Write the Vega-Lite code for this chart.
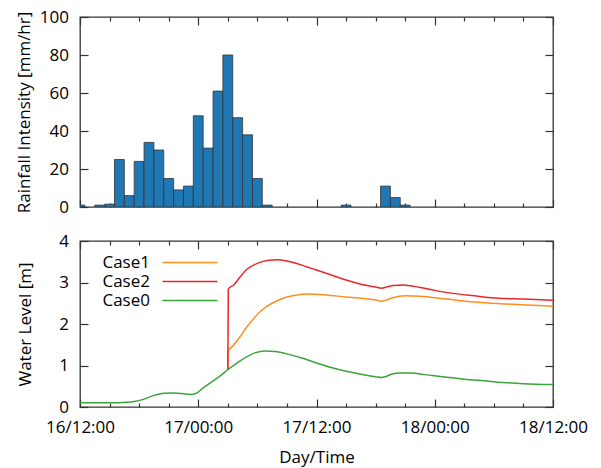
{
  "$schema": "https://vega.github.io/schema/vega-lite/v6.json",
  "background": "white",
  "padding": {"top": 7, "left": 14, "right": 5, "bottom": 5},
  "spacing": 15,
  "resolve": {"legend": {"color": "independent"}},
  "config": {
    "view": {"stroke": "#333", "strokeWidth": 1.3},
    "axis": {"domain": false, "grid": false, "tickColor": "#333", "tickWidth": 1.2, "labelFont": "Open Sans", "labelFontSize": 17, "labelColor": "#000", "titleFont": "Open Sans", "titleFontSize": 17, "titleFontWeight": "normal", "titleColor": "#000", "labelFlush": false, "labelOverlap": false, "minExtent": 0}
  },
  "datasets": {
    "rain": [
      {"start": "2020-01-16T11:30", "end": "2020-01-16T12:30", "rain": 1},
      {"start": "2020-01-16T13:30", "end": "2020-01-16T14:30", "rain": 1},
      {"start": "2020-01-16T14:30", "end": "2020-01-16T15:30", "rain": 1.5},
      {"start": "2020-01-16T15:30", "end": "2020-01-16T16:30", "rain": 25},
      {"start": "2020-01-16T16:30", "end": "2020-01-16T17:30", "rain": 6},
      {"start": "2020-01-16T17:30", "end": "2020-01-16T18:30", "rain": 24},
      {"start": "2020-01-16T18:30", "end": "2020-01-16T19:30", "rain": 34},
      {"start": "2020-01-16T19:30", "end": "2020-01-16T20:30", "rain": 30},
      {"start": "2020-01-16T20:30", "end": "2020-01-16T21:30", "rain": 15},
      {"start": "2020-01-16T21:30", "end": "2020-01-16T22:30", "rain": 9},
      {"start": "2020-01-16T22:30", "end": "2020-01-16T23:30", "rain": 11},
      {"start": "2020-01-16T23:30", "end": "2020-01-17T00:30", "rain": 48},
      {"start": "2020-01-17T00:30", "end": "2020-01-17T01:30", "rain": 31},
      {"start": "2020-01-17T01:30", "end": "2020-01-17T02:30", "rain": 61},
      {"start": "2020-01-17T02:30", "end": "2020-01-17T03:30", "rain": 80},
      {"start": "2020-01-17T03:30", "end": "2020-01-17T04:30", "rain": 47},
      {"start": "2020-01-17T04:30", "end": "2020-01-17T05:30", "rain": 38},
      {"start": "2020-01-17T05:30", "end": "2020-01-17T06:30", "rain": 15},
      {"start": "2020-01-17T06:30", "end": "2020-01-17T07:30", "rain": 1},
      {"start": "2020-01-17T14:30", "end": "2020-01-17T15:30", "rain": 1},
      {"start": "2020-01-17T18:30", "end": "2020-01-17T19:30", "rain": 11},
      {"start": "2020-01-17T19:30", "end": "2020-01-17T20:30", "rain": 5},
      {"start": "2020-01-17T20:30", "end": "2020-01-17T21:30", "rain": 1}
    ],
    "level": [
      {"t": "2020-01-17T03:00", "series": "Case1", "level": 0.90},
      {"t": "2020-01-17T03:03", "series": "Case1", "level": 1.35},
      {"t": "2020-01-17T03:30", "series": "Case1", "level": 1.47},
      {"t": "2020-01-17T04:12", "series": "Case1", "level": 1.68},
      {"t": "2020-01-17T05:00", "series": "Case1", "level": 1.95},
      {"t": "2020-01-17T05:36", "series": "Case1", "level": 2.12},
      {"t": "2020-01-17T06:18", "series": "Case1", "level": 2.30},
      {"t": "2020-01-17T07:00", "series": "Case1", "level": 2.43},
      {"t": "2020-01-17T08:00", "series": "Case1", "level": 2.56},
      {"t": "2020-01-17T09:00", "series": "Case1", "level": 2.65},
      {"t": "2020-01-17T10:00", "series": "Case1", "level": 2.70},
      {"t": "2020-01-17T11:00", "series": "Case1", "level": 2.72},
      {"t": "2020-01-17T13:00", "series": "Case1", "level": 2.70},
      {"t": "2020-01-17T15:00", "series": "Case1", "level": 2.65},
      {"t": "2020-01-17T17:00", "series": "Case1", "level": 2.61},
      {"t": "2020-01-17T18:00", "series": "Case1", "level": 2.58},
      {"t": "2020-01-17T18:36", "series": "Case1", "level": 2.55},
      {"t": "2020-01-17T19:06", "series": "Case1", "level": 2.58},
      {"t": "2020-01-17T19:48", "series": "Case1", "level": 2.64},
      {"t": "2020-01-17T21:00", "series": "Case1", "level": 2.68},
      {"t": "2020-01-17T22:30", "series": "Case1", "level": 2.67},
      {"t": "2020-01-18T01:12", "series": "Case1", "level": 2.60},
      {"t": "2020-01-18T04:00", "series": "Case1", "level": 2.53},
      {"t": "2020-01-18T06:36", "series": "Case1", "level": 2.49},
      {"t": "2020-01-18T09:18", "series": "Case1", "level": 2.46},
      {"t": "2020-01-18T12:00", "series": "Case1", "level": 2.43},
      {"t": "2020-01-17T03:00", "series": "Case2", "level": 0.90},
      {"t": "2020-01-17T03:03", "series": "Case2", "level": 2.84},
      {"t": "2020-01-17T03:36", "series": "Case2", "level": 2.94},
      {"t": "2020-01-17T04:18", "series": "Case2", "level": 3.15},
      {"t": "2020-01-17T05:00", "series": "Case2", "level": 3.33},
      {"t": "2020-01-17T06:00", "series": "Case2", "level": 3.46},
      {"t": "2020-01-17T07:00", "series": "Case2", "level": 3.53},
      {"t": "2020-01-17T08:00", "series": "Case2", "level": 3.55},
      {"t": "2020-01-17T09:00", "series": "Case2", "level": 3.52},
      {"t": "2020-01-17T10:00", "series": "Case2", "level": 3.46},
      {"t": "2020-01-17T11:00", "series": "Case2", "level": 3.38},
      {"t": "2020-01-17T12:00", "series": "Case2", "level": 3.30},
      {"t": "2020-01-17T13:30", "series": "Case2", "level": 3.18},
      {"t": "2020-01-17T15:00", "series": "Case2", "level": 3.06},
      {"t": "2020-01-17T16:30", "series": "Case2", "level": 2.96},
      {"t": "2020-01-17T18:00", "series": "Case2", "level": 2.89},
      {"t": "2020-01-17T18:36", "series": "Case2", "level": 2.86},
      {"t": "2020-01-17T19:06", "series": "Case2", "level": 2.89},
      {"t": "2020-01-17T19:48", "series": "Case2", "level": 2.93},
      {"t": "2020-01-17T20:48", "series": "Case2", "level": 2.94},
      {"t": "2020-01-17T22:30", "series": "Case2", "level": 2.88},
      {"t": "2020-01-18T00:00", "series": "Case2", "level": 2.81},
      {"t": "2020-01-18T01:30", "series": "Case2", "level": 2.75},
      {"t": "2020-01-18T04:00", "series": "Case2", "level": 2.68},
      {"t": "2020-01-18T06:30", "series": "Case2", "level": 2.62},
      {"t": "2020-01-18T09:00", "series": "Case2", "level": 2.60},
      {"t": "2020-01-18T12:00", "series": "Case2", "level": 2.57},
      {"t": "2020-01-16T12:00", "series": "Case0", "level": 0.10},
      {"t": "2020-01-16T15:00", "series": "Case0", "level": 0.10},
      {"t": "2020-01-16T16:30", "series": "Case0", "level": 0.11},
      {"t": "2020-01-16T17:30", "series": "Case0", "level": 0.13},
      {"t": "2020-01-16T18:30", "series": "Case0", "level": 0.19},
      {"t": "2020-01-16T19:30", "series": "Case0", "level": 0.28},
      {"t": "2020-01-16T20:30", "series": "Case0", "level": 0.33},
      {"t": "2020-01-16T21:30", "series": "Case0", "level": 0.34},
      {"t": "2020-01-16T22:30", "series": "Case0", "level": 0.32},
      {"t": "2020-01-16T23:12", "series": "Case0", "level": 0.30},
      {"t": "2020-01-16T23:48", "series": "Case0", "level": 0.33},
      {"t": "2020-01-17T00:30", "series": "Case0", "level": 0.46},
      {"t": "2020-01-17T01:30", "series": "Case0", "level": 0.63},
      {"t": "2020-01-17T02:18", "series": "Case0", "level": 0.76},
      {"t": "2020-01-17T03:00", "series": "Case0", "level": 0.90},
      {"t": "2020-01-17T04:00", "series": "Case0", "level": 1.07},
      {"t": "2020-01-17T05:00", "series": "Case0", "level": 1.22},
      {"t": "2020-01-17T05:48", "series": "Case0", "level": 1.31},
      {"t": "2020-01-17T06:48", "series": "Case0", "level": 1.35},
      {"t": "2020-01-17T07:48", "series": "Case0", "level": 1.34},
      {"t": "2020-01-17T09:00", "series": "Case0", "level": 1.28},
      {"t": "2020-01-17T10:30", "series": "Case0", "level": 1.18},
      {"t": "2020-01-17T12:00", "series": "Case0", "level": 1.06},
      {"t": "2020-01-17T13:30", "series": "Case0", "level": 0.95},
      {"t": "2020-01-17T15:00", "series": "Case0", "level": 0.86},
      {"t": "2020-01-17T16:30", "series": "Case0", "level": 0.79},
      {"t": "2020-01-17T18:00", "series": "Case0", "level": 0.73},
      {"t": "2020-01-17T18:36", "series": "Case0", "level": 0.71},
      {"t": "2020-01-17T19:00", "series": "Case0", "level": 0.73},
      {"t": "2020-01-17T19:36", "series": "Case0", "level": 0.79},
      {"t": "2020-01-17T20:30", "series": "Case0", "level": 0.82},
      {"t": "2020-01-17T21:30", "series": "Case0", "level": 0.82},
      {"t": "2020-01-17T23:00", "series": "Case0", "level": 0.78},
      {"t": "2020-01-18T01:00", "series": "Case0", "level": 0.72},
      {"t": "2020-01-18T03:00", "series": "Case0", "level": 0.67},
      {"t": "2020-01-18T05:00", "series": "Case0", "level": 0.63},
      {"t": "2020-01-18T07:00", "series": "Case0", "level": 0.59},
      {"t": "2020-01-18T09:00", "series": "Case0", "level": 0.56},
      {"t": "2020-01-18T12:00", "series": "Case0", "level": 0.54}
    ]
  },
  "vconcat": [
    {
      "width": 473,
      "height": 190,
      "data": {"name": "rain"},
      "resolve": {"axis": {"x": "independent", "y": "independent"}},
      "layer": [
        {
          "mark": {"type": "bar", "fill": "#1f77b4", "stroke": "#333", "strokeWidth": 0.8, "clip": true},
          "encoding": {
            "x": {"field": "start", "type": "temporal", "scale": {"domain": [{"year": 2020, "month": 1, "date": 16, "hours": 12}, {"year": 2020, "month": 1, "date": 18, "hours": 12}], "nice": false},
                  "axis": {"orient": "bottom", "title": null, "labels": false, "tickSize": -8, "values": [{"year": 2020, "month": 1, "date": 16, "hours": 12}, {"year": 2020, "month": 1, "date": 17, "hours": 0}, {"year": 2020, "month": 1, "date": 17, "hours": 12}, {"year": 2020, "month": 1, "date": 18, "hours": 0}, {"year": 2020, "month": 1, "date": 18, "hours": 12}]}},
            "x2": {"field": "end"},
            "y": {"field": "rain", "type": "quantitative", "scale": {"domain": [0, 100], "nice": false},
                  "axis": {"orient": "left", "title": "Rainfall Intensity [mm/hr]", "values": [0, 20, 40, 60, 80, 100], "tickSize": -8, "labelPadding": 19.5, "titlePadding": 6}},
            "y2": {"datum": 0}
          }
        },
        {
          "mark": {"type": "point", "opacity": 0},
          "encoding": {
            "x": {"field": "start", "type": "temporal",
                  "axis": {"orient": "top", "title": null, "labels": false, "tickSize": -8, "values": [{"year": 2020, "month": 1, "date": 16, "hours": 12}, {"year": 2020, "month": 1, "date": 17, "hours": 0}, {"year": 2020, "month": 1, "date": 17, "hours": 12}, {"year": 2020, "month": 1, "date": 18, "hours": 0}, {"year": 2020, "month": 1, "date": 18, "hours": 12}]}},
            "y": {"field": "rain", "type": "quantitative",
                  "axis": {"orient": "right", "title": null, "labels": false, "values": [0, 20, 40, 60, 80, 100], "tickSize": -8}}
          }
        },
        {
          "mark": {"type": "point", "opacity": 0},
          "encoding": {
            "x": {"field": "start", "type": "temporal",
                  "axis": {"orient": "bottom", "title": null, "labels": false, "tickSize": -4, "values": [{"year": 2020, "month": 1, "date": 16, "hours": 15}, {"year": 2020, "month": 1, "date": 16, "hours": 18}, {"year": 2020, "month": 1, "date": 16, "hours": 21}, {"year": 2020, "month": 1, "date": 17, "hours": 3}, {"year": 2020, "month": 1, "date": 17, "hours": 6}, {"year": 2020, "month": 1, "date": 17, "hours": 9}, {"year": 2020, "month": 1, "date": 17, "hours": 15}, {"year": 2020, "month": 1, "date": 17, "hours": 18}, {"year": 2020, "month": 1, "date": 17, "hours": 21}, {"year": 2020, "month": 1, "date": 18, "hours": 3}, {"year": 2020, "month": 1, "date": 18, "hours": 6}, {"year": 2020, "month": 1, "date": 18, "hours": 9}]}},
            "y": {"field": "rain", "type": "quantitative", "axis": null}
          }
        },
        {
          "mark": {"type": "point", "opacity": 0},
          "encoding": {
            "x": {"field": "start", "type": "temporal",
                  "axis": {"orient": "top", "title": null, "labels": false, "tickSize": -4, "values": [{"year": 2020, "month": 1, "date": 16, "hours": 15}, {"year": 2020, "month": 1, "date": 16, "hours": 18}, {"year": 2020, "month": 1, "date": 16, "hours": 21}, {"year": 2020, "month": 1, "date": 17, "hours": 3}, {"year": 2020, "month": 1, "date": 17, "hours": 6}, {"year": 2020, "month": 1, "date": 17, "hours": 9}, {"year": 2020, "month": 1, "date": 17, "hours": 15}, {"year": 2020, "month": 1, "date": 17, "hours": 18}, {"year": 2020, "month": 1, "date": 17, "hours": 21}, {"year": 2020, "month": 1, "date": 18, "hours": 3}, {"year": 2020, "month": 1, "date": 18, "hours": 6}, {"year": 2020, "month": 1, "date": 18, "hours": 9}]}},
            "y": {"field": "rain", "type": "quantitative", "axis": null}
          }
        }
      ]
    },
    {
      "width": 473,
      "height": 166,
      "data": {"name": "level"},
      "resolve": {"axis": {"x": "independent", "y": "independent"}},
      "layer": [
        {
          "mark": {"type": "line", "strokeWidth": 1.5, "interpolate": "monotone", "clip": true},
          "encoding": {
            "x": {"field": "t", "type": "temporal", "scale": {"domain": [{"year": 2020, "month": 1, "date": 16, "hours": 12}, {"year": 2020, "month": 1, "date": 18, "hours": 12}], "nice": false},
                  "axis": {"orient": "bottom", "title": "Day/Time", "format": "%d/%H:%M", "tickSize": -8, "labelPadding": 20, "titlePadding": 14, "values": [{"year": 2020, "month": 1, "date": 16, "hours": 12}, {"year": 2020, "month": 1, "date": 17, "hours": 0}, {"year": 2020, "month": 1, "date": 17, "hours": 12}, {"year": 2020, "month": 1, "date": 18, "hours": 0}, {"year": 2020, "month": 1, "date": 18, "hours": 12}]}},
            "y": {"field": "level", "type": "quantitative", "scale": {"domain": [0, 4], "nice": false},
                  "axis": {"orient": "left", "title": "Water Level [m]", "values": [0, 1, 2, 3, 4], "tickSize": -8, "labelPadding": 19.5, "titlePadding": 24}},
            "color": {"field": "series", "type": "nominal",
                      "scale": {"domain": ["Case1", "Case2", "Case0"], "range": ["#ff8f1f", "#e8272b", "#3aa33a"]},
                      "legend": {"title": null, "orient": "none", "legendX": 0, "legendY": 13, "padding": 0, "rowPadding": 1,
                                 "symbolType": "M-5.5,0H5.5", "symbolSize": 100, "symbolStrokeWidth": 1.5,
                                 "labelFont": "Open Sans", "labelFontSize": 17, "labelColor": "#000",
                                 "encode": {"symbols": {"update": {"x": {"value": 110}}}, "labels": {"update": {"x": {"value": 70}, "align": {"value": "right"}}}}}}
          }
        },
        {
          "mark": {"type": "point", "opacity": 0},
          "encoding": {
            "x": {"field": "t", "type": "temporal",
                  "axis": {"orient": "top", "title": null, "labels": false, "tickSize": -8, "values": [{"year": 2020, "month": 1, "date": 16, "hours": 12}, {"year": 2020, "month": 1, "date": 17, "hours": 0}, {"year": 2020, "month": 1, "date": 17, "hours": 12}, {"year": 2020, "month": 1, "date": 18, "hours": 0}, {"year": 2020, "month": 1, "date": 18, "hours": 12}]}},
            "y": {"field": "level", "type": "quantitative",
                  "axis": {"orient": "right", "title": null, "labels": false, "values": [0, 1, 2, 3, 4], "tickSize": -8}}
          }
        },
        {
          "mark": {"type": "point", "opacity": 0},
          "encoding": {
            "x": {"field": "t", "type": "temporal",
                  "axis": {"orient": "bottom", "title": null, "labels": false, "tickSize": -4, "values": [{"year": 2020, "month": 1, "date": 16, "hours": 15}, {"year": 2020, "month": 1, "date": 16, "hours": 18}, {"year": 2020, "month": 1, "date": 16, "hours": 21}, {"year": 2020, "month": 1, "date": 17, "hours": 3}, {"year": 2020, "month": 1, "date": 17, "hours": 6}, {"year": 2020, "month": 1, "date": 17, "hours": 9}, {"year": 2020, "month": 1, "date": 17, "hours": 15}, {"year": 2020, "month": 1, "date": 17, "hours": 18}, {"year": 2020, "month": 1, "date": 17, "hours": 21}, {"year": 2020, "month": 1, "date": 18, "hours": 3}, {"year": 2020, "month": 1, "date": 18, "hours": 6}, {"year": 2020, "month": 1, "date": 18, "hours": 9}]}},
            "y": {"field": "level", "type": "quantitative", "axis": null}
          }
        },
        {
          "mark": {"type": "point", "opacity": 0},
          "encoding": {
            "x": {"field": "t", "type": "temporal",
                  "axis": {"orient": "top", "title": null, "labels": false, "tickSize": -4, "values": [{"year": 2020, "month": 1, "date": 16, "hours": 15}, {"year": 2020, "month": 1, "date": 16, "hours": 18}, {"year": 2020, "month": 1, "date": 16, "hours": 21}, {"year": 2020, "month": 1, "date": 17, "hours": 3}, {"year": 2020, "month": 1, "date": 17, "hours": 6}, {"year": 2020, "month": 1, "date": 17, "hours": 9}, {"year": 2020, "month": 1, "date": 17, "hours": 15}, {"year": 2020, "month": 1, "date": 17, "hours": 18}, {"year": 2020, "month": 1, "date": 17, "hours": 21}, {"year": 2020, "month": 1, "date": 18, "hours": 3}, {"year": 2020, "month": 1, "date": 18, "hours": 6}, {"year": 2020, "month": 1, "date": 18, "hours": 9}]}},
            "y": {"field": "level", "type": "quantitative", "axis": null}
          }
        }
      ]
    }
  ]
}
